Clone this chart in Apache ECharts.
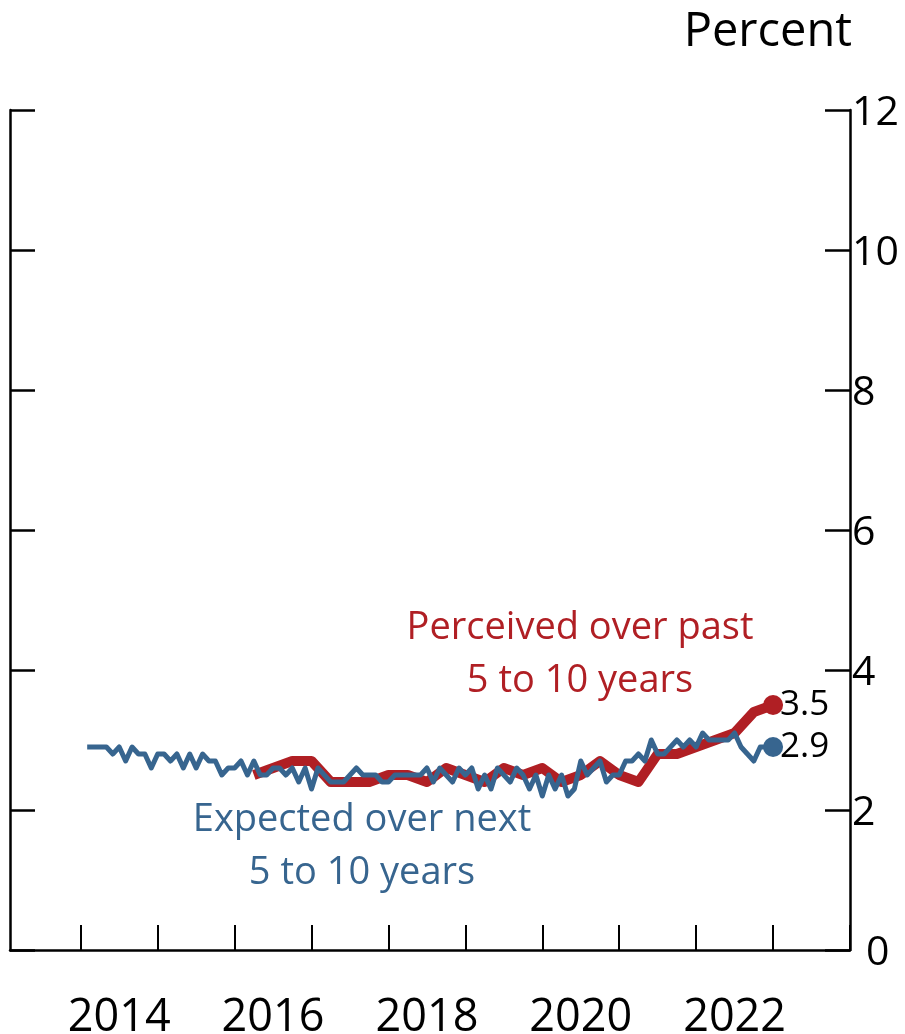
<!DOCTYPE html>
<html>
<head>
<meta charset="utf-8">
<script src="https://cdn.jsdelivr.net/npm/echarts@6/dist/echarts.min.js"></script>
<style>
  html, body { margin: 0; padding: 0; background: #fff; }
  #chart { width: 905px; height: 1034px; }
</style>
</head>
<body>
<div id="chart"></div>
<script>
// expected over next 5 to 10 years, monthly from Feb 2014
const expectedStart = [2014, 2];
const expected = [
  2.9, 2.9, 2.9, 2.9, 2.8, 2.9, 2.7, 2.9, 2.8, 2.8, 2.6,
  2.8, 2.8, 2.7, 2.8, 2.6, 2.8, 2.6, 2.8, 2.7, 2.7, 2.5, 2.6,
  2.6, 2.7, 2.5, 2.7, 2.5, 2.5, 2.6, 2.6, 2.5, 2.6, 2.4, 2.6,
  2.3, 2.6, 2.5, 2.4, 2.4, 2.4, 2.5, 2.6, 2.5, 2.5, 2.5, 2.4,
  2.4, 2.5, 2.5, 2.5, 2.5, 2.5, 2.6, 2.4, 2.6, 2.5, 2.4, 2.6,
  2.5, 2.6, 2.3, 2.5, 2.3, 2.6, 2.5, 2.4, 2.6, 2.5, 2.3, 2.5,
  2.2, 2.5, 2.3, 2.5, 2.2, 2.3, 2.7, 2.5, 2.6, 2.7, 2.4, 2.5,
  2.5, 2.7, 2.7, 2.8, 2.7, 3.0, 2.8, 2.8, 2.9, 3.0, 2.9, 3.0,
  2.9, 3.1, 3.0, 3.0, 3.0, 3.0, 3.1, 2.9, 2.8, 2.7, 2.9, 2.9,
  2.9
];

// perceived over past 5 to 10 years, quarterly from Apr 2016
const perceivedStart = [2016, 4];
const perceived = [
  2.5, 2.6, 2.7, 2.7, 2.4, 2.4, 2.4, 2.5, 2.5, 2.4, 2.6, 2.5,
  2.4, 2.6, 2.5, 2.6, 2.4, 2.5, 2.7, 2.5, 2.4, 2.8, 2.8, 2.9,
  3.0, 3.1, 3.4, 3.5
];

const yTicks = [0, 2, 4, 6, 8, 10, 12];
const yearTicks = [2014, 2015, 2016, 2017, 2018, 2019, 2020, 2021, 2022, 2023, 2024];
const yearLabels = [2014, 2016, 2018, 2020, 2022];

const RED = '#B01F24';
const BLUE = '#37658F';
const FONT = '"Open Sans", sans-serif';

function toPoints(start, values, stepMonths, color) {
  return values.map((v, i) => {
    const x = start[0] + (start[1] - 1 + i * stepMonths) / 12;
    if (i === values.length - 1) {
      return { value: [x, v], symbol: 'circle', symbolSize: 20, itemStyle: { color: color } };
    }
    return [x, v];
  });
}

const chart = echarts.init(document.getElementById('chart'));

const yAxisBase = {
  type: 'value',
  min: yTicks[0],
  max: yTicks[yTicks.length - 1],
  interval: 2,
  splitLine: { show: false },
  axisLine: { show: true, lineStyle: { color: '#000', width: 2.5 } },
  axisTick: { show: true, inside: true, length: 25, lineStyle: { color: '#000', width: 2.5 } }
};

const endLabel = {
  show: true, color: '#000', fontSize: 35, fontFamily: FONT, distance: 7,
  formatter: p => p.value[1].toFixed(1)
};

chart.setOption({
  animation: false,
  grid: { left: 10, right: 55, top: 110, bottom: 84, containLabel: false, outerBoundsMode: 'none' },
  xAxis: {
    type: 'value',
    min: 2013.08,
    max: 2024,
    splitLine: { show: false },
    axisLine: { show: true, lineStyle: { color: '#000', width: 2.5 } },
    axisTick: {
      show: true, inside: true, length: 25,
      customValues: yearTicks,
      lineStyle: { color: '#000', width: 2 }
    },
    axisLabel: {
      customValues: yearLabels.map(y => y + 0.5),
      formatter: v => String(Math.floor(v)),
      color: '#000',
      fontSize: 45,
      fontFamily: FONT,
      margin: 46
    }
  },
  yAxis: [
    Object.assign({}, yAxisBase, { position: 'left', axisLabel: { show: false } }),
    Object.assign({}, yAxisBase, {
      position: 'right',
      axisLabel: {
        show: true, color: '#000', fontSize: 41, fontFamily: FONT, margin: 2,
        padding: [7, 0, 0, 0],
        formatter: v => (v === 0 ? '{z|0}' : String(v)),
        rich: { z: { fontSize: 41, fontFamily: FONT, color: '#000', padding: [0, 0, 0, 14] } }
      }
    })
  ],
  series: [
    {
      name: 'Perceived over past 5 to 10 years',
      type: 'line',
      yAxisIndex: 1,
      symbol: 'none',
      showSymbol: true,
      z: 2,
      lineStyle: { color: RED, width: 10, join: 'round' },
      itemStyle: { color: RED },
      endLabel: endLabel,
      data: toPoints(perceivedStart, perceived, 3, RED)
    },
    {
      name: 'Expected over next 5 to 10 years',
      type: 'line',
      yAxisIndex: 1,
      symbol: 'none',
      showSymbol: true,
      z: 3,
      lineStyle: { color: BLUE, width: 5, join: 'round' },
      itemStyle: { color: BLUE },
      endLabel: endLabel,
      data: toPoints(expectedStart, expected, 1, BLUE)
    }
  ],
  graphic: [
    { type: 'text', right: 53, top: 9, style: { text: 'Percent', fill: '#000', font: '47px ' + FONT } },
    { type: 'text', x: 580, y: 628, style: { text: 'Perceived over past', fill: RED, font: '38px ' + FONT, align: 'center', verticalAlign: 'middle' } },
    { type: 'text', x: 580, y: 681, style: { text: '5 to 10 years', fill: RED, font: '38px ' + FONT, align: 'center', verticalAlign: 'middle' } },
    { type: 'text', x: 362, y: 820, style: { text: 'Expected over next', fill: BLUE, font: '38px ' + FONT, align: 'center', verticalAlign: 'middle' } },
    { type: 'text', x: 362, y: 873, style: { text: '5 to 10 years', fill: BLUE, font: '38px ' + FONT, align: 'center', verticalAlign: 'middle' } }
  ]
});
</script>
</body>
</html>
